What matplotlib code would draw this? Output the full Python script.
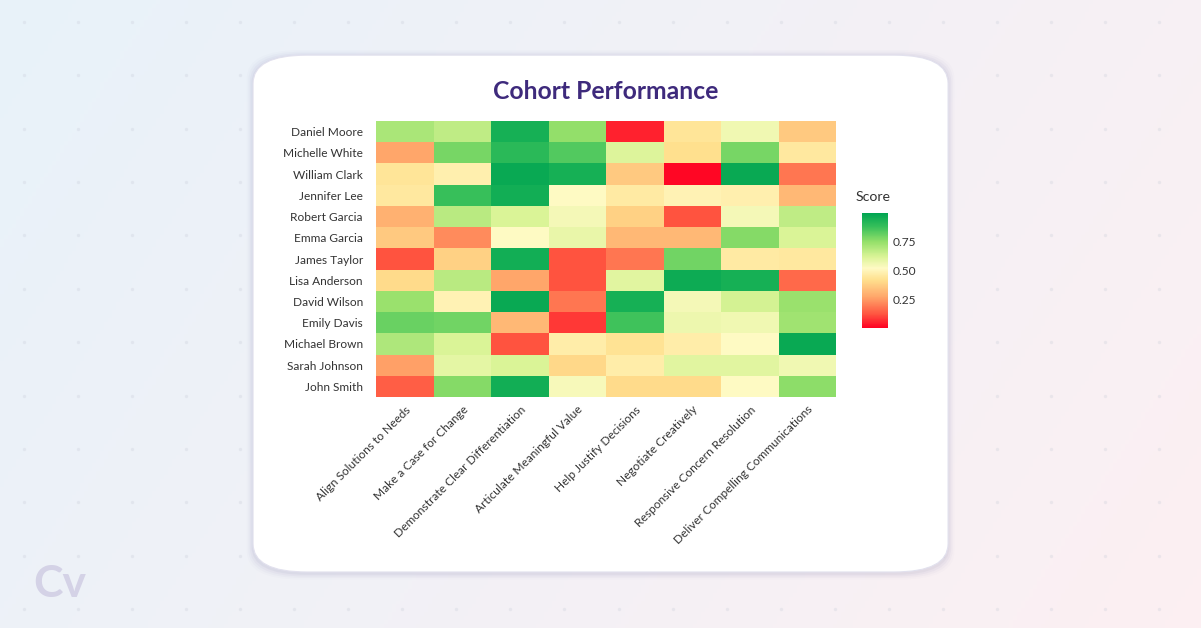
import matplotlib as mpl
import matplotlib.pyplot as plt
import numpy as np
from matplotlib.colors import LinearSegmentedColormap
from matplotlib.patches import FancyBboxPatch

mpl.rcParams['font.family'] = ['Lato', 'DejaVu Sans']

people = ['Daniel Moore', 'Michelle White', 'William Clark', 'Jennifer Lee',
          'Robert Garcia', 'Emma Garcia', 'James Taylor', 'Lisa Anderson',
          'David Wilson', 'Emily Davis', 'Michael Brown', 'Sarah Johnson',
          'John Smith']
skills = ['Align Solutions to Needs', 'Make a Case for Change',
          'Demonstrate Clear Differentiation', 'Articulate Meaningful Value',
          'Help Justify Decisions', 'Negotiate Creatively',
          'Responsive Concern Resolution', 'Deliver Compelling Communications']

# scores, one list per person (columns follow `skills`)
daniel_moore = [0.71, 0.67, 0.95, 0.75, 0.05, 0.44, 0.56, 0.36]
michelle_white = [0.27, 0.79, 0.91, 0.84, 0.61, 0.42, 0.79, 0.45]
william_clark = [0.44, 0.48, 0.98, 0.95, 0.36, 0.01, 0.98, 0.18]
jennifer_lee = [0.45, 0.88, 0.96, 0.52, 0.46, 0.49, 0.48, 0.32]
robert_garcia = [0.30, 0.68, 0.62, 0.55, 0.38, 0.12, 0.55, 0.67]
emma_garcia = [0.36, 0.22, 0.52, 0.58, 0.32, 0.32, 0.77, 0.62]
james_taylor = [0.12, 0.38, 0.96, 0.12, 0.18, 0.80, 0.46, 0.45]
lisa_anderson = [0.41, 0.68, 0.27, 0.12, 0.60, 0.97, 0.95, 0.16]
david_wilson = [0.74, 0.49, 0.98, 0.18, 0.95, 0.55, 0.63, 0.74]
emily_davis = [0.81, 0.80, 0.32, 0.08, 0.87, 0.57, 0.56, 0.73]
michael_brown = [0.70, 0.62, 0.12, 0.47, 0.43, 0.47, 0.52, 0.98]
sarah_johnson = [0.26, 0.59, 0.62, 0.40, 0.47, 0.60, 0.60, 0.56]
john_smith = [0.14, 0.77, 0.96, 0.54, 0.41, 0.41, 0.52, 0.76]

scores = np.array([daniel_moore, michelle_white, william_clark, jennifer_lee,
                   robert_garcia, emma_garcia, james_taylor, lisa_anderson,
                   david_wilson, emily_davis, michael_brown, sarah_johnson,
                   john_smith])

PURPLE = '#3E2A7C'
TEXT = '#333333'

cmap = LinearSegmentedColormap.from_list('score', [
    (0.00, '#FF0022'), (0.12, '#FF5540'), (0.27, '#FFA66A'),
    (0.42, '#FFE08E'), (0.52, '#FFFAC4'), (0.62, '#DAF497'),
    (0.75, '#95E06A'), (0.88, '#38C05A'), (1.00, '#00A552')])

fig = plt.figure(figsize=(12.01, 6.28), dpi=100)

# background gradient + dots
bg = fig.add_axes([0, 0, 1, 1], zorder=-10)
gx = np.linspace(0, 1, 300)
gy = np.linspace(0, 1, 160)
GX, GY = np.meshgrid(gx, gy)
t = np.clip(0.75 * GX + 0.25 * GY, 0, 1)
c0 = np.array([0.91, 0.95, 0.98])
c1 = np.array([0.99, 0.94, 0.95])
img = c0[None, None, :] * (1 - t[..., None]) + c1[None, None, :] * t[..., None]
bg.imshow(img, extent=[0, 1, 0, 1], aspect='auto', origin='upper')
dx, dy = np.meshgrid(np.arange(0.02, 1.0, 0.045), np.arange(0.03, 1.0, 0.085))
bg.scatter(dx.ravel(), dy.ravel(), s=6, color='#C8CCD8', alpha=0.3, lw=0)
bg.text(0.028, 0.07, 'Cv', fontsize=32, fontweight='bold', color='#D4D2E6',
        ha='left', va='center')
bg.set_xlim(0, 1)
bg.set_ylim(0, 1)
bg.axis('off')

# card with a soft glow
L, B, W, H = 0.2107, 0.0892, 0.5787, 0.823
for i, a in enumerate([0.10, 0.07, 0.05, 0.03]):
    g = (i + 1) * 0.0025
    fig.patches.append(FancyBboxPatch(
        (L - g * 0.52, B - g - 0.002), W + g * 1.04, H + 2 * g,
        boxstyle='round,pad=0,rounding_size=0.045', transform=fig.transFigure,
        facecolor='#9C98C0', edgecolor='none', alpha=a, zorder=-5))
fig.patches.append(FancyBboxPatch(
    (L, B), W, H, boxstyle='round,pad=0,rounding_size=0.045',
    transform=fig.transFigure, facecolor='white', edgecolor='#E2E1EE',
    lw=0.8, zorder=-4))

fig.text(0.5045, 0.855, 'Cohort Performance', ha='center', va='center',
         fontsize=17.8, fontweight='bold', color=PURPLE)

ax = fig.add_axes([0.3131, 0.3678, 0.383, 0.4395])
mesh = ax.pcolormesh(scores, cmap=cmap, vmin=0, vmax=1)
ax.set_xlim(0, len(skills))
ax.set_ylim(len(people), 0)
ax.set_xticks(np.arange(len(skills)) + 0.5)
ax.set_xticklabels(skills, rotation=45, ha='right', rotation_mode='anchor',
                   fontsize=8.6, color=TEXT)
ax.set_yticks(np.arange(len(people)) + 0.5)
ax.set_yticklabels(people, fontsize=8.6, color=TEXT)
ax.tick_params(axis='y', length=0, pad=9.5)
ax.tick_params(axis='x', length=0, pad=5)
for s in ax.spines.values():
    s.set_visible(False)

cax = fig.add_axes([0.7177, 0.4777, 0.0216, 0.183])
cb = fig.colorbar(mesh, cax=cax, ticks=[0.25, 0.5, 0.75])
cb.ax.set_yticklabels(['0.25', '0.50', '0.75'], fontsize=8.6, color=TEXT)
cb.ax.tick_params(length=0, pad=3.5)
cb.outline.set_visible(False)
fig.text(0.7125, 0.686, 'Score', ha='left', va='center', fontsize=10.2,
         color=TEXT)

fig.savefig('out.png', dpi=100)
